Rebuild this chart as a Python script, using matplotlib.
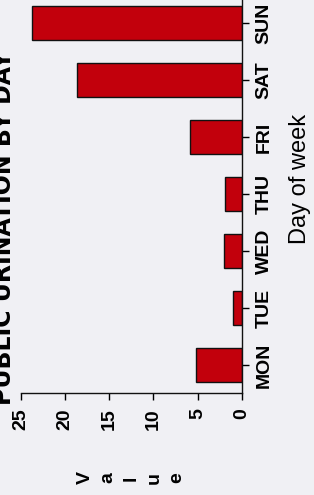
import matplotlib
matplotlib.use('Agg')
import matplotlib.pyplot as plt

days = ['MON', 'TUE', 'WED', 'THU', 'FRI', 'SAT', 'SUN']
values = [5.2, 1.0, 2.0, 1.9, 5.9, 18.7, 23.7]
value_ticks = [0, 5, 10, 15, 20, 25]
title = 'PUBLIC URINATION BY DAY'
xlabel = 'Day of week'
ylabel = 'Value'

plt.rcParams['font.family'] = ['Liberation Sans', 'DejaVu Sans']

W, H = 314, 495
fig = plt.figure(figsize=(W / 100, H / 100), dpi=100, facecolor='#f0f0f4')
left = 21 / W
right = 241.7 / W
bottom = (H - 393) / H
ax = fig.add_axes([left, bottom, right - left, 1.0 - bottom])
ax.set_facecolor('none')

pos = list(range(len(days)))
ax.barh(pos, values, height=0.6, color='#c2000c', edgecolor='#111111', linewidth=1.0)
ax.set_xlim(25, 0)
ax.set_ylim(-28 / 57, 6 + 23 / 57)

for s in ['left', 'top']:
    ax.spines[s].set_visible(False)
for s in ['right', 'bottom']:
    ax.spines[s].set_linewidth(1.0)
    ax.spines[s].set_color('#111111')

ax.yaxis.tick_right()
ax.tick_params(axis='y', direction='out', length=5, pad=5, width=1)
ax.tick_params(axis='x', direction='out', length=5, pad=6, width=1)
ax.set_yticks(pos)
ax.set_yticklabels(days)
ax.set_xticks(value_ticks)
ax.set_xticklabels([str(v) for v in value_ticks])
for t in ax.yaxis.get_major_ticks():
    for lbl in (t.label1, t.label2):
        lbl.set_rotation(90)
        lbl.set_va('center')
        lbl.set_ha('left')
        lbl.set_fontsize(14)
        lbl.set_fontweight('bold')
for t in ax.xaxis.get_major_ticks():
    for lbl in (t.label1, t.label2):
        lbl.set_rotation(90)
        lbl.set_fontsize(14)
        lbl.set_fontweight('bold')

fig.text(300 / W, 1 - 179 / H, xlabel, rotation=90, ha='center', va='center',
         fontsize=17)
fig.text(16 / W, 1 - 228 / H, title, rotation=90, ha='right', va='center',
         fontsize=17, fontweight='bold', family='Liberation Sans Narrow')
fig.text(131 / W, 1 - 478 / H, '\n'.join(ylabel), rotation=90, ha='center',
         va='center', multialignment='center', fontsize=14, fontweight='bold',
         linespacing=1.45)

fig.savefig('out.png', dpi=100, facecolor=fig.get_facecolor())
